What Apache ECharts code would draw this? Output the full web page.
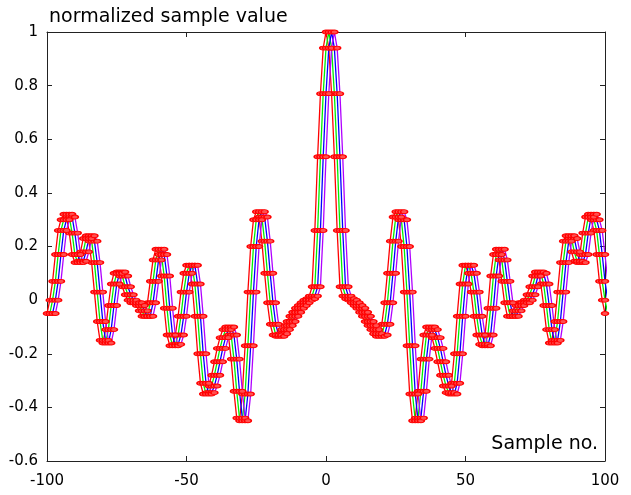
<!DOCTYPE html>
<html>
<head>
<meta charset="utf-8">
<script src="https://cdn.jsdelivr.net/npm/echarts@6/dist/echarts.min.js"></script>
<style>
  html, body { margin: 0; padding: 0; background: #fff; }
  #chart { width: 631px; height: 495px; }
</style>
</head>
<body>
<div id="chart"></div>
<script>
// sample value, x = -100 .. 100
var sampleValues = [
  -0.05, 0.0, 0.07, 0.17, 0.26, 0.3, 0.32, 0.31, 0.25, 0.17,
  0.14, 0.145, 0.18, 0.23, 0.24, 0.22, 0.14, 0.03, -0.08, -0.15,
  -0.16, -0.11, -0.02, 0.06, 0.1, 0.105, 0.09, 0.05, 0.02, 0.0,
  -0.01, -0.01, -0.02, -0.04, -0.06, -0.06, -0.01, 0.07, 0.15, 0.19,
  0.17, 0.09, -0.03, -0.13, -0.17, -0.165, -0.13, -0.06, 0.03, 0.1,
  0.13, 0.13, 0.06, -0.06, -0.2, -0.31, -0.35, -0.345, -0.32, -0.28,
  -0.23, -0.18, -0.14, -0.11, -0.1, -0.13, -0.22, -0.34, -0.44, -0.45,
  -0.35, -0.17, 0.03, 0.2, 0.3, 0.33, 0.31, 0.22, 0.1, -0.01,
  -0.09, -0.13, -0.135, -0.125, -0.11, -0.095, -0.08, -0.06, -0.045, -0.03,
  -0.02, -0.01, 0.0, 0.005, 0.015, 0.05, 0.26, 0.535, 0.77, 0.94,
  1.0,
  0.94, 0.77, 0.535, 0.26, 0.05, 0.015, 0.005, 0.0, -0.01, -0.02,
  -0.03, -0.045, -0.06, -0.08, -0.095, -0.11, -0.125, -0.135, -0.13, -0.09,
  -0.01, 0.1, 0.22, 0.31, 0.33, 0.3, 0.2, 0.03, -0.17, -0.35,
  -0.45, -0.44, -0.34, -0.22, -0.13, -0.1, -0.11, -0.14, -0.18, -0.23,
  -0.28, -0.32, -0.345, -0.35, -0.31, -0.2, -0.06, 0.06, 0.13, 0.13,
  0.1, 0.03, -0.06, -0.13, -0.165, -0.17, -0.13, -0.03, 0.09, 0.17,
  0.19, 0.15, 0.07, -0.01, -0.06, -0.06, -0.04, -0.02, -0.01, -0.01,
  0.0, 0.02, 0.05, 0.09, 0.105, 0.1, 0.06, -0.02, -0.11, -0.16,
  -0.15, -0.08, 0.03, 0.14, 0.22, 0.24, 0.23, 0.18, 0.145, 0.14,
  0.17, 0.25, 0.31, 0.32, 0.3, 0.26, 0.17, 0.07, 0.0, -0.05
];
var firstSample = -100;
// each curve is the same sequence delayed by some samples
var delays = [0, 1, 2, 3];
var lineColors = ['#ff0000', '#00ee00', '#0000ff', '#b000ff'];
var xTicks = [-100, 100, 50];   // min, max, step
var yTicks = [-0.6, 1, 0.2];

function shifted(d) {
  return sampleValues.map(function (v, i) {
    return [firstSample + i + d, v];
  });
}

var font = 'DejaVu Sans';
var chart = echarts.init(document.getElementById('chart'), null, { renderer: 'canvas' });

var series = [];
delays.forEach(function (d, k) {
  series.push({
    type: 'line',
    data: shifted(d),
    showSymbol: false,
    clip: true,
    z: 2,
    lineStyle: { color: lineColors[k], width: 1.3 },
    animation: false
  });
});
delays.forEach(function (d, k) {
  series.push({
    type: 'scatter',
    data: shifted(d),
    clip: true,
    symbol: 'circle',
    symbolSize: [7, 4],
    z: 3,
    itemStyle: { color: '#ff5050', borderColor: '#ff0000', borderWidth: 1.2, opacity: 1 },
    animation: false
  });
});

var axisLine = { show: true, onZero: false, lineStyle: { color: '#222', width: 1 } };
var tick = { show: true, inside: true, length: 5, lineStyle: { color: '#222' } };
var option = {
  animation: false,
  title: [{
    text: 'normalized sample value',
    left: 44, top: 3,
    textStyle: { fontFamily: font, fontSize: 19, fontWeight: 'normal', color: '#000' }
  }],
  graphic: [{
    type: 'text', right: 33, top: 435,
    style: { text: 'Sample no.', font: '19px ' + font, fill: '#000' }
  }],
  grid: { left: 47, right: 26, top: 32, bottom: 34 },
  xAxis: [{
    type: 'value', min: xTicks[0], max: xTicks[1], interval: xTicks[2],
    axisLine: axisLine, axisTick: tick,
    axisLabel: { fontFamily: font, fontSize: 15, color: '#000', margin: 13 },
    splitLine: { show: false }
  }, {
    type: 'value', position: 'top', min: xTicks[0], max: xTicks[1], interval: xTicks[2],
    axisLine: axisLine, axisTick: tick,
    axisLabel: { show: false },
    splitLine: { show: false }
  }],
  yAxis: [{
    type: 'value', min: yTicks[0], max: yTicks[1], interval: yTicks[2],
    axisLine: axisLine, axisTick: tick,
    axisLabel: { fontFamily: font, fontSize: 15, color: '#000', margin: 9 },
    splitLine: { show: false }
  }, {
    type: 'value', position: 'right', min: yTicks[0], max: yTicks[1], interval: yTicks[2],
    axisLine: axisLine, axisTick: tick,
    axisLabel: { show: false },
    splitLine: { show: false }
  }],
  series: series
};
chart.setOption(option);
</script>
</body>
</html>
